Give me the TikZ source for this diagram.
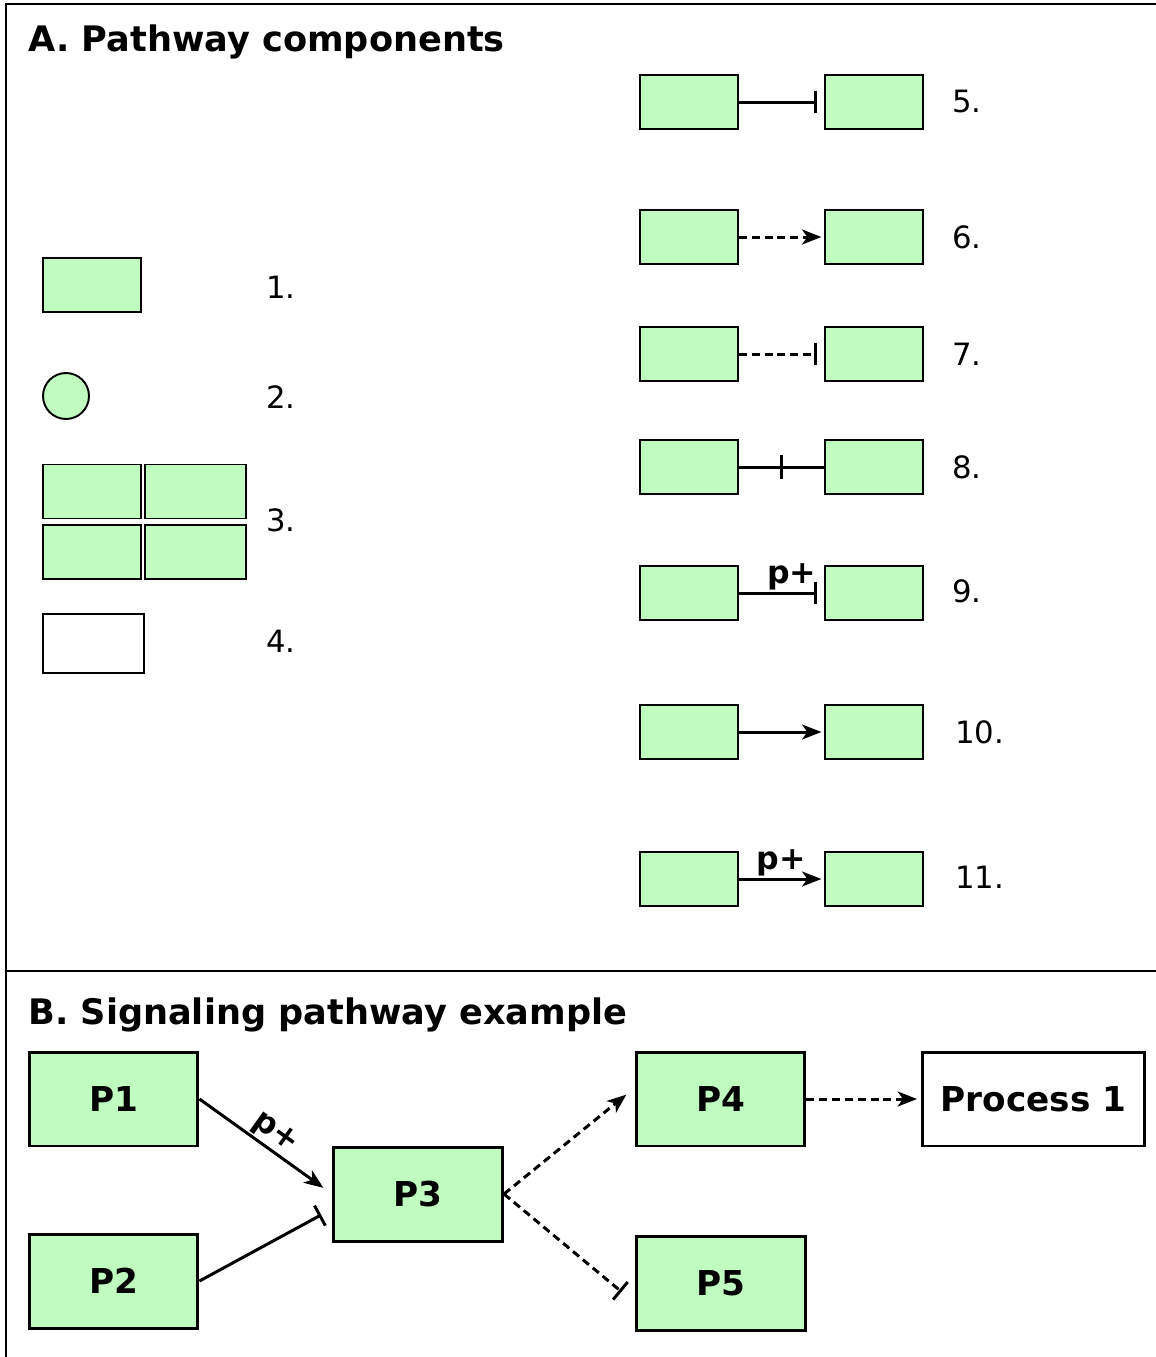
\documentclass[tikz,border=0pt]{standalone}
\usepackage{fontspec}
\setmainfont{DejaVu Sans}
\usetikzlibrary{arrows.meta,calc,positioning}
\definecolor{boxgreen}{RGB}{192,252,192}
\tikzset{>={Stealth[length=11pt,width=8.5pt,inset=3pt]}}
\tikzset{
  comp/.style={draw, line width=1.1pt, fill=boxgreen, minimum width=1.96cm, minimum height=1.08cm, inner sep=0pt},
  prot/.style={draw, line width=1.7pt, fill=boxgreen, minimum width=3.38cm, minimum height=1.88cm, inner sep=0pt, font=\fontsize{19.5}{22}\selectfont\bfseries},
  lnk/.style={line width=1.7pt},
  dsh/.style={lnk, dash pattern=on 4.5pt off 2.8pt},
  inh/.style={-{Bar[width=13pt,line width=1.7pt]}},
  num/.style={anchor=west, inner sep=0pt, font=\fontsize{17.5}{20}\selectfont},
  pplus/.style={font=\fontsize{18}{20}\selectfont\bfseries, inner sep=1pt},
  ttl/.style={anchor=west, inner sep=0pt, font=\fontsize{20}{23}\selectfont\bfseries},
}

\begin{document}
\begin{tikzpicture}[x=0.02cm, y=-0.02cm]
    \useasboundingbox (0,0) rectangle (1156,1357);
    % frame
    \draw[line width=1.2pt] (1156,4) -- (6,4) -- (6,1357);
    \draw[line width=1.2pt] (6,971) -- (1156,971);

    % A. components
    \node[ttl] (titleA) at (28,42) {A. Pathway components};

    \node[comp] (c1) at (92,285) {};
    \node[comp, circle, minimum size=0.92cm] (c2) at (66,396) {};
    \node[comp, minimum width=1.97cm] (c3a) at (92,491.5) {};
    \node[comp, minimum width=2.03cm] (c3b) at (195.5,491.5) {};
    \node[comp, minimum width=1.97cm] (c3c) at (92,552) {};
    \node[comp, minimum width=2.03cm] (c3d) at (195.5,552) {};
    \node[comp, fill=white, minimum width=2.02cm, minimum height=1.18cm] (c4) at (93.5,643.5) {};

    \node[num] (n1) at (266,287) {1.};
    \node[num] (n2) at (266,397) {2.};
    \node[num] (n3) at (266,520) {3.};
    \node[num] (n4) at (266,641) {4.};

    \node[comp] (a5) at (689,102) {};
    \node[comp] (b5) at (874,102) {};
    \node[comp] (a6) at (689,237) {};
    \node[comp] (b6) at (874,237) {};
    \node[comp] (a7) at (689,354) {};
    \node[comp] (b7) at (874,354) {};
    \node[comp] (a8) at (689,467) {};
    \node[comp] (b8) at (874,467) {};
    \node[comp] (a9) at (689,593) {};
    \node[comp] (b9) at (874,593) {};
    \node[comp] (a10) at (689,732) {};
    \node[comp] (b10) at (874,732) {};
    \node[comp] (a11) at (689,879) {};
    \node[comp] (b11) at (874,879) {};

    \node[num] (n5) at (952,102) {5.};
    \node[num] (n6) at (952,237) {6.};
    \node[num] (n7) at (952,354) {7.};
    \node[num] (n8) at (952,467) {8.};
    \node[num] (n9) at (952,591) {9.};
    \node[num] (n10) at (955,732) {10.};
    \node[num] (n11) at (955,877) {11.};

    \draw[lnk, inh, shorten >=4pt] (a5) -- (b5);
    \draw[dsh, ->, shorten >=1.5pt] (a6) -- (b6);
    \draw[dsh, inh, shorten >=4pt] (a7) -- (b7);
    \draw[lnk] (a8) -- coordinate[midway] (m8) (b8);
    \draw[lnk] ($(m8)+(0,-12)$) -- ($(m8)+(0,12)$);
    \draw[lnk, inh, shorten >=4pt] (a9) -- node[pplus, above, pos=0.62] {p+} (b9);
    \draw[lnk, ->, shorten >=1.5pt] (a10) -- (b10);
    \draw[lnk, ->, shorten >=1.5pt] (a11) -- node[pplus, above, pos=0.5] {p+} (b11);

    % B. example
    \node[ttl] (titleB) at (28,1015) {B. Signaling pathway example};

    \node[prot] (P1) at (113.5,1099) {P1};
    \node[prot] (P2) at (113.5,1281) {P2};
    \node[prot] (P3) at (418,1194) {P3};
    \node[prot] (P4) at (720.5,1099) {P4};
    \node[prot] (P5) at (721,1283) {P5};
    \node[prot, fill=white, minimum width=4.46cm] (proc) at (1033.5,1099) {Process 1};

    \draw[lnk, ->, shorten >=6pt] (P1.east) -- node[pplus, above, sloped, pos=0.5] {p+} (P3.west);
    \draw[lnk, inh, shorten >=7pt] (P2.east) -- ($(P3.west)+(0,15)$);
    \draw[dsh, ->, shorten >=6pt] (P3.east) -- ($(P4.west)+(0,-11)$);
    \draw[dsh, inh, shorten >=10pt] (P3.east) -- ($(P5.west)+(0,20)$);
    \draw[dsh, ->, shorten >=2pt] (P4.east) -- (proc.west);
\end{tikzpicture}
\end{document}
